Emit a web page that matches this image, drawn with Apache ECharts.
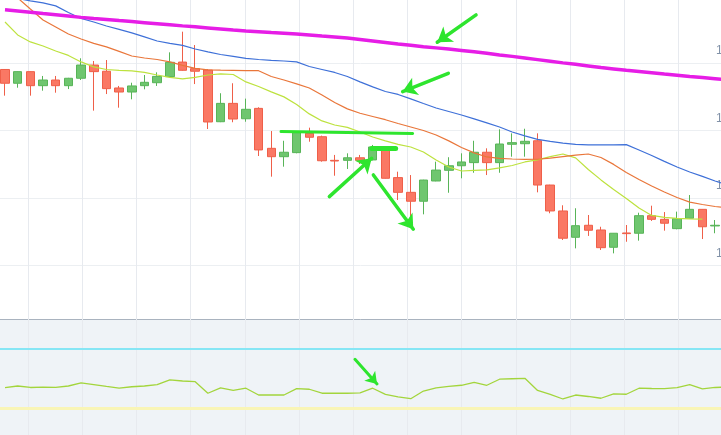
<!DOCTYPE html>
<html>
<head>
<meta charset="utf-8">
<script src="https://cdn.jsdelivr.net/npm/echarts@6/dist/echarts.min.js"></script>
<style>
  html, body { margin: 0; padding: 0; background: #fff; }
  #chart { width: 721px; height: 435px; }
</style>
</head>
<body>
<div id="chart"></div>
<script>
// candles: [open, close, low, high]
const candles = [
  [11895.2, 11885.0, 11875.8, 11895.5],
  [11885.0, 11893.6, 11881.7, 11893.8],
  [11893.6, 11883.2, 11875.8, 11893.8],
  [11883.2, 11887.4, 11879.5, 11890.4],
  [11887.4, 11883.2, 11878.0, 11890.4],
  [11883.2, 11888.7, 11880.7, 11889.0],
  [11888.7, 11898.5, 11887.4, 11903.5],
  [11898.5, 11893.6, 11864.7, 11901.5],
  [11893.9, 11881.0, 11877.0, 11902.2],
  [11881.5, 11878.5, 11866.9, 11883.0],
  [11878.5, 11883.0, 11873.1, 11885.4],
  [11883.2, 11885.7, 11880.5, 11891.1],
  [11885.4, 11890.1, 11883.0, 11893.1],
  [11889.9, 11900.5, 11889.4, 11907.9],
  [11900.7, 11894.6, 11894.3, 11923.2],
  [11895.8, 11893.9, 11884.4, 11913.3],
  [11894.8, 11856.3, 11851.1, 11895.5],
  [11856.5, 11870.1, 11856.2, 11877.6],
  [11870.1, 11858.5, 11856.1, 11885.0],
  [11858.7, 11865.7, 11856.5, 11873.6],
  [11866.4, 11835.6, 11831.1, 11867.2],
  [11836.8, 11830.6, 11815.8, 11849.6],
  [11830.6, 11833.9, 11823.2, 11842.4],
  [11833.6, 11848.4, 11833.1, 11849.1],
  [11847.9, 11845.0, 11841.7, 11852.1],
  [11845.4, 11827.6, 11826.9, 11846.2],
  [11827.9, 11827.4, 11816.5, 11831.9],
  [11827.9, 11829.8, 11821.5, 11833.1],
  [11829.8, 11827.9, 11825.2, 11831.9],
  [11828.2, 11837.8, 11827.8, 11839.3],
  [11835.6, 11814.6, 11814.4, 11837.0],
  [11815.1, 11804.2, 11798.5, 11819.5],
  [11804.2, 11797.6, 11786.2, 11817.0],
  [11797.6, 11813.3, 11787.9, 11813.5],
  [11812.6, 11820.7, 11812.4, 11826.9],
  [11820.5, 11823.9, 11803.9, 11830.2],
  [11823.9, 11826.7, 11814.6, 11833.1],
  [11826.2, 11833.9, 11818.7, 11842.4],
  [11833.9, 11826.2, 11817.0, 11836.8],
  [11826.2, 11840.0, 11818.7, 11850.9],
  [11839.8, 11841.0, 11830.6, 11847.9],
  [11840.2, 11842.0, 11830.6, 11851.3],
  [11842.4, 11809.6, 11804.2, 11847.9],
  [11809.6, 11790.4, 11788.7, 11809.8],
  [11790.4, 11770.2, 11768.9, 11794.6],
  [11770.9, 11779.5, 11762.7, 11792.4],
  [11779.8, 11776.1, 11771.9, 11787.4],
  [11776.3, 11763.2, 11761.5, 11778.7],
  [11763.5, 11773.9, 11759.0, 11774.0],
  [11774.1, 11773.6, 11767.6, 11780.0],
  [11773.9, 11786.9, 11768.4, 11789.1],
  [11786.9, 11784.2, 11783.0, 11794.3],
  [11784.2, 11781.3, 11775.8, 11789.6],
  [11777.3, 11784.7, 11776.8, 11789.9],
  [11785.0, 11791.6, 11784.9, 11802.2],
  [11791.6, 11778.7, 11769.6, 11791.7],
  [11779.3, 11779.8, 11773.9, 11783.7],
  [11779.8, 11782.0, 11776.0, 11785.0]
];

const categories = candles.map((c, i) => 'P' + (i + 1));

// moving averages
const maSlow = [
  11939.4, 11938.5, 11937.6, 11936.6, 11935.7, 11934.8, 11933.8, 11933.0, 11932.3, 11931.4,
  11930.7, 11929.9, 11929.1, 11928.3, 11927.5, 11926.8, 11926.0, 11925.2, 11924.4, 11923.7,
  11923.2, 11922.6, 11922.1, 11921.5, 11920.8, 11920.0, 11919.3, 11918.5, 11917.4, 11916.3,
  11915.2, 11914.1, 11913.1, 11912.1, 11911.2, 11910.3, 11909.3, 11908.3, 11907.2, 11906.0,
  11904.9, 11903.7, 11902.5, 11901.3, 11900.1, 11899.0, 11897.8, 11896.6, 11895.6, 11894.6,
  11893.7, 11892.8, 11891.8, 11890.9, 11890.0, 11889.2, 11888.3, 11887.4
];
const maBlue = [
  11949.7, 11947.8, 11946.0, 11944.5, 11942.3, 11937.4, 11933.0, 11930.4, 11927.4, 11924.9,
  11922.3, 11919.3, 11916.3, 11914.5, 11913.0, 11910.4, 11908.2, 11906.3, 11904.9, 11903.4,
  11902.6, 11902.0, 11901.5, 11900.8, 11897.4, 11895.2, 11893.0, 11890.0, 11886.0, 11882.3,
  11878.9, 11876.7, 11873.4, 11870.0, 11866.7, 11864.1, 11861.5, 11858.6, 11855.6, 11852.6,
  11848.9, 11846.0, 11843.4, 11841.9, 11840.6, 11839.7, 11839.3, 11839.3, 11839.4, 11839.5,
  11835.6, 11831.5, 11827.1, 11823.0, 11819.3, 11816.0, 11812.6, 11809.7
];
const maOrange = [
  11954.1, 11948.2, 11940.0, 11931.9, 11926.7, 11921.5, 11917.8, 11914.5, 11911.9, 11908.6,
  11905.2, 11903.7, 11902.6, 11900.8, 11898.2, 11896.0, 11894.9, 11894.7, 11894.6, 11894.4,
  11894.3, 11890.0, 11887.4, 11884.5, 11881.5, 11876.3, 11870.8, 11866.0, 11862.8, 11860.4,
  11858.0, 11855.2, 11852.6, 11850.0, 11846.7, 11842.3, 11837.4, 11833.4, 11830.4, 11829.3,
  11828.9, 11828.6, 11828.7, 11829.5, 11830.6, 11831.7, 11832.6, 11830.0, 11824.9, 11818.9,
  11813.7, 11808.9, 11804.5, 11800.4, 11796.9, 11795.2, 11793.7, 11792.6
];
const maFast = [
  11930.4, 11920.8, 11915.6, 11912.6, 11908.9, 11905.6, 11900.8, 11897.1, 11895.2, 11894.5,
  11894.1, 11893.0, 11891.1, 11889.3, 11888.2, 11889.3, 11891.1, 11891.9, 11891.5, 11886.0,
  11882.6, 11878.6, 11874.9, 11869.3, 11862.3, 11857.1, 11854.1, 11852.3, 11848.9, 11845.2,
  11842.3, 11839.7, 11837.8, 11834.1, 11828.2, 11823.0, 11820.0, 11820.4, 11820.8, 11822.3,
  11824.1, 11826.7, 11828.2, 11830.6, 11832.6, 11829.7, 11821.1, 11813.4, 11806.3, 11799.7,
  11792.6, 11787.1, 11785.6, 11784.9, 11784.5, 11784.3, '-', '-'
];

// oscillator (lower panel) and its levels
const rsi = [
  43.8, 44.9, 43.9, 44.2, 44.0, 44.9, 47.0, 45.9, 44.6, 43.4,
  44.4, 44.9, 45.9, 49.0, 48.3, 47.8, 40.0, 43.6, 42.0, 43.4,
  38.8, 38.8, 38.8, 43.1, 42.7, 40.0, 40.0, 40.0, 40.2, 43.4,
  39.2, 37.5, 36.3, 41.5, 43.6, 44.6, 45.4, 47.4, 45.4, 49.5,
  49.8, 50.1, 41.9, 39.2, 36.1, 38.8, 37.8, 36.6, 39.5, 39.3,
  43.4, 43.2, 43.1, 43.8, 45.8, 42.9, 43.9, 44.2
];
const rsiUpper = 70;
const rsiLower = 30;

// drawn annotations, [fromIndex, fromValue, toIndex, toValue]
const priceArrows = [
  [37.15, 11935.6, 34.09, 11915.4],
  [34.96, 11892.4, 31.36, 11878.8],
  [25.58, 11801.0, 28.92, 11829.4],
  [29.05, 11817.1, 32.2, 11776.9]
];
const priceSegments = [
  [21.77, 11849.3, 32.15, 11847.8, 3],
  [28.92, 11837.1, 30.81, 11837.1, 5]
];
const rsiArrows = [
  [27.6, 63.0, 29.34, 46.3]
];

const green = '#2ee52e';
const chart = echarts.init(document.getElementById('chart'));

let toLines = (arr) => arr.map(a => ({coords: [[a[0], a[1]], [a[2], a[3]]]}));

let option = {
  animation: false,
  backgroundColor: '#ffffff',
  grid: [
    // main price panel
    {left: -1.34, right: -13.1, top: -4.5, bottom: 169.5, outerBoundsMode: 'none', containLabel: false},
    // lower oscillator panel
    {
      left: -1.34, right: -13.1, top: 319, bottom: 0, outerBoundsMode: 'none', containLabel: false,
      show: true, backgroundColor: '#eff3f7', borderWidth: 0
    },
    // full height grid only for the vertical split lines
    {left: -26.2, right: -11.6, top: 0, bottom: 0, outerBoundsMode: 'none', containLabel: false}
  ],
  xAxis: [
    {type: 'category', gridIndex: 0, data: categories, show: false},
    {type: 'value', gridIndex: 0, min: -0.5, max: 57.5, show: false},
    {
      type: 'category', gridIndex: 1, data: categories, position: 'top',
      axisLine: {show: true, lineStyle: {color: '#a9b3bf', width: 1}},
      axisTick: {show: false}, axisLabel: {show: false}, splitLine: {show: false}
    },
    {type: 'value', gridIndex: 1, min: -0.5, max: 57.5, show: false},
    {
      type: 'value', gridIndex: 2, min: 0, max: 14, interval: 1, z: 1,
      axisLine: {show: false}, axisTick: {show: false}, axisLabel: {show: false},
      splitLine: {show: true, lineStyle: {color: '#e7eaef', width: 1}}
    }
  ],
  yAxis: [
    {
      type: 'value', gridIndex: 0, position: 'right', offset: -19,
      min: 11750, max: 11950, interval: 50,
      axisLine: {show: false}, axisTick: {show: false},
      axisLabel: {
        margin: 1, color: '#8292a8', fontSize: 12, verticalAlign: 'bottom',
        padding: [0, 0, 6, 0]
      },
      splitLine: {lineStyle: {color: '#eceff2', width: 1}}
    },
    {type: 'value', gridIndex: 1, min: 11.7, max: 90.3, show: false},
    {type: 'value', gridIndex: 2, min: 0, max: 1, show: false}
  ],
  series: [
    {
      type: 'candlestick', xAxisIndex: 0, yAxisIndex: 0,
      data: candles, barWidth: 9,
      itemStyle: {
        color: '#6fc66f', color0: '#fa7864',
        borderColor: '#58b458', borderColor0: '#ef5f49', borderWidth: 1
      }
    },
    {
      type: 'line', xAxisIndex: 0, yAxisIndex: 0, data: maFast,
      showSymbol: false, lineStyle: {color: '#bde23e', width: 1.2}
    },
    {
      type: 'line', xAxisIndex: 0, yAxisIndex: 0, data: maOrange,
      showSymbol: false, lineStyle: {color: '#e9763a', width: 1.2}
    },
    {
      type: 'line', xAxisIndex: 0, yAxisIndex: 0, data: maBlue,
      showSymbol: false, lineStyle: {color: '#3e70d8', width: 1.2}
    },
    {
      type: 'line', xAxisIndex: 0, yAxisIndex: 0, data: maSlow,
      showSymbol: false, lineStyle: {color: '#e61de6', width: 3.5}
    },
    {
      type: 'line', xAxisIndex: 2, yAxisIndex: 1, data: rsi,
      showSymbol: false, lineStyle: {color: '#a3d53c', width: 1.3},
      markLine: {
        silent: true, symbol: 'none', label: {show: false},
        data: [
          {yAxis: rsiUpper, lineStyle: {color: '#86e6f5', width: 2, type: 'solid'}},
          {yAxis: rsiLower, lineStyle: {color: '#f9f5b6', width: 3, type: 'solid'}}
        ]
      }
    },
    // annotations
    {
      type: 'lines', coordinateSystem: 'cartesian2d', xAxisIndex: 1, yAxisIndex: 0, z: 5,
      symbol: ['none', 'arrow'], symbolSize: [12, 14],
      lineStyle: {color: green, width: 3.5, opacity: 1, cap: 'round'},
      data: toLines(priceArrows)
    },
    {
      type: 'lines', coordinateSystem: 'cartesian2d', xAxisIndex: 1, yAxisIndex: 0, z: 5,
      symbol: 'none',
      data: priceSegments.map(a => ({
        coords: [[a[0], a[1]], [a[2], a[3]]],
        lineStyle: {color: green, width: a[4], opacity: 1, cap: 'round'}
      }))
    },
    {
      type: 'lines', coordinateSystem: 'cartesian2d', xAxisIndex: 3, yAxisIndex: 1, z: 5,
      symbol: ['none', 'arrow'], symbolSize: [9, 11],
      lineStyle: {color: green, width: 3, opacity: 1, cap: 'round'},
      data: toLines(rsiArrows)
    }
  ]
};

chart.setOption(option);
</script>
</body>
</html>
